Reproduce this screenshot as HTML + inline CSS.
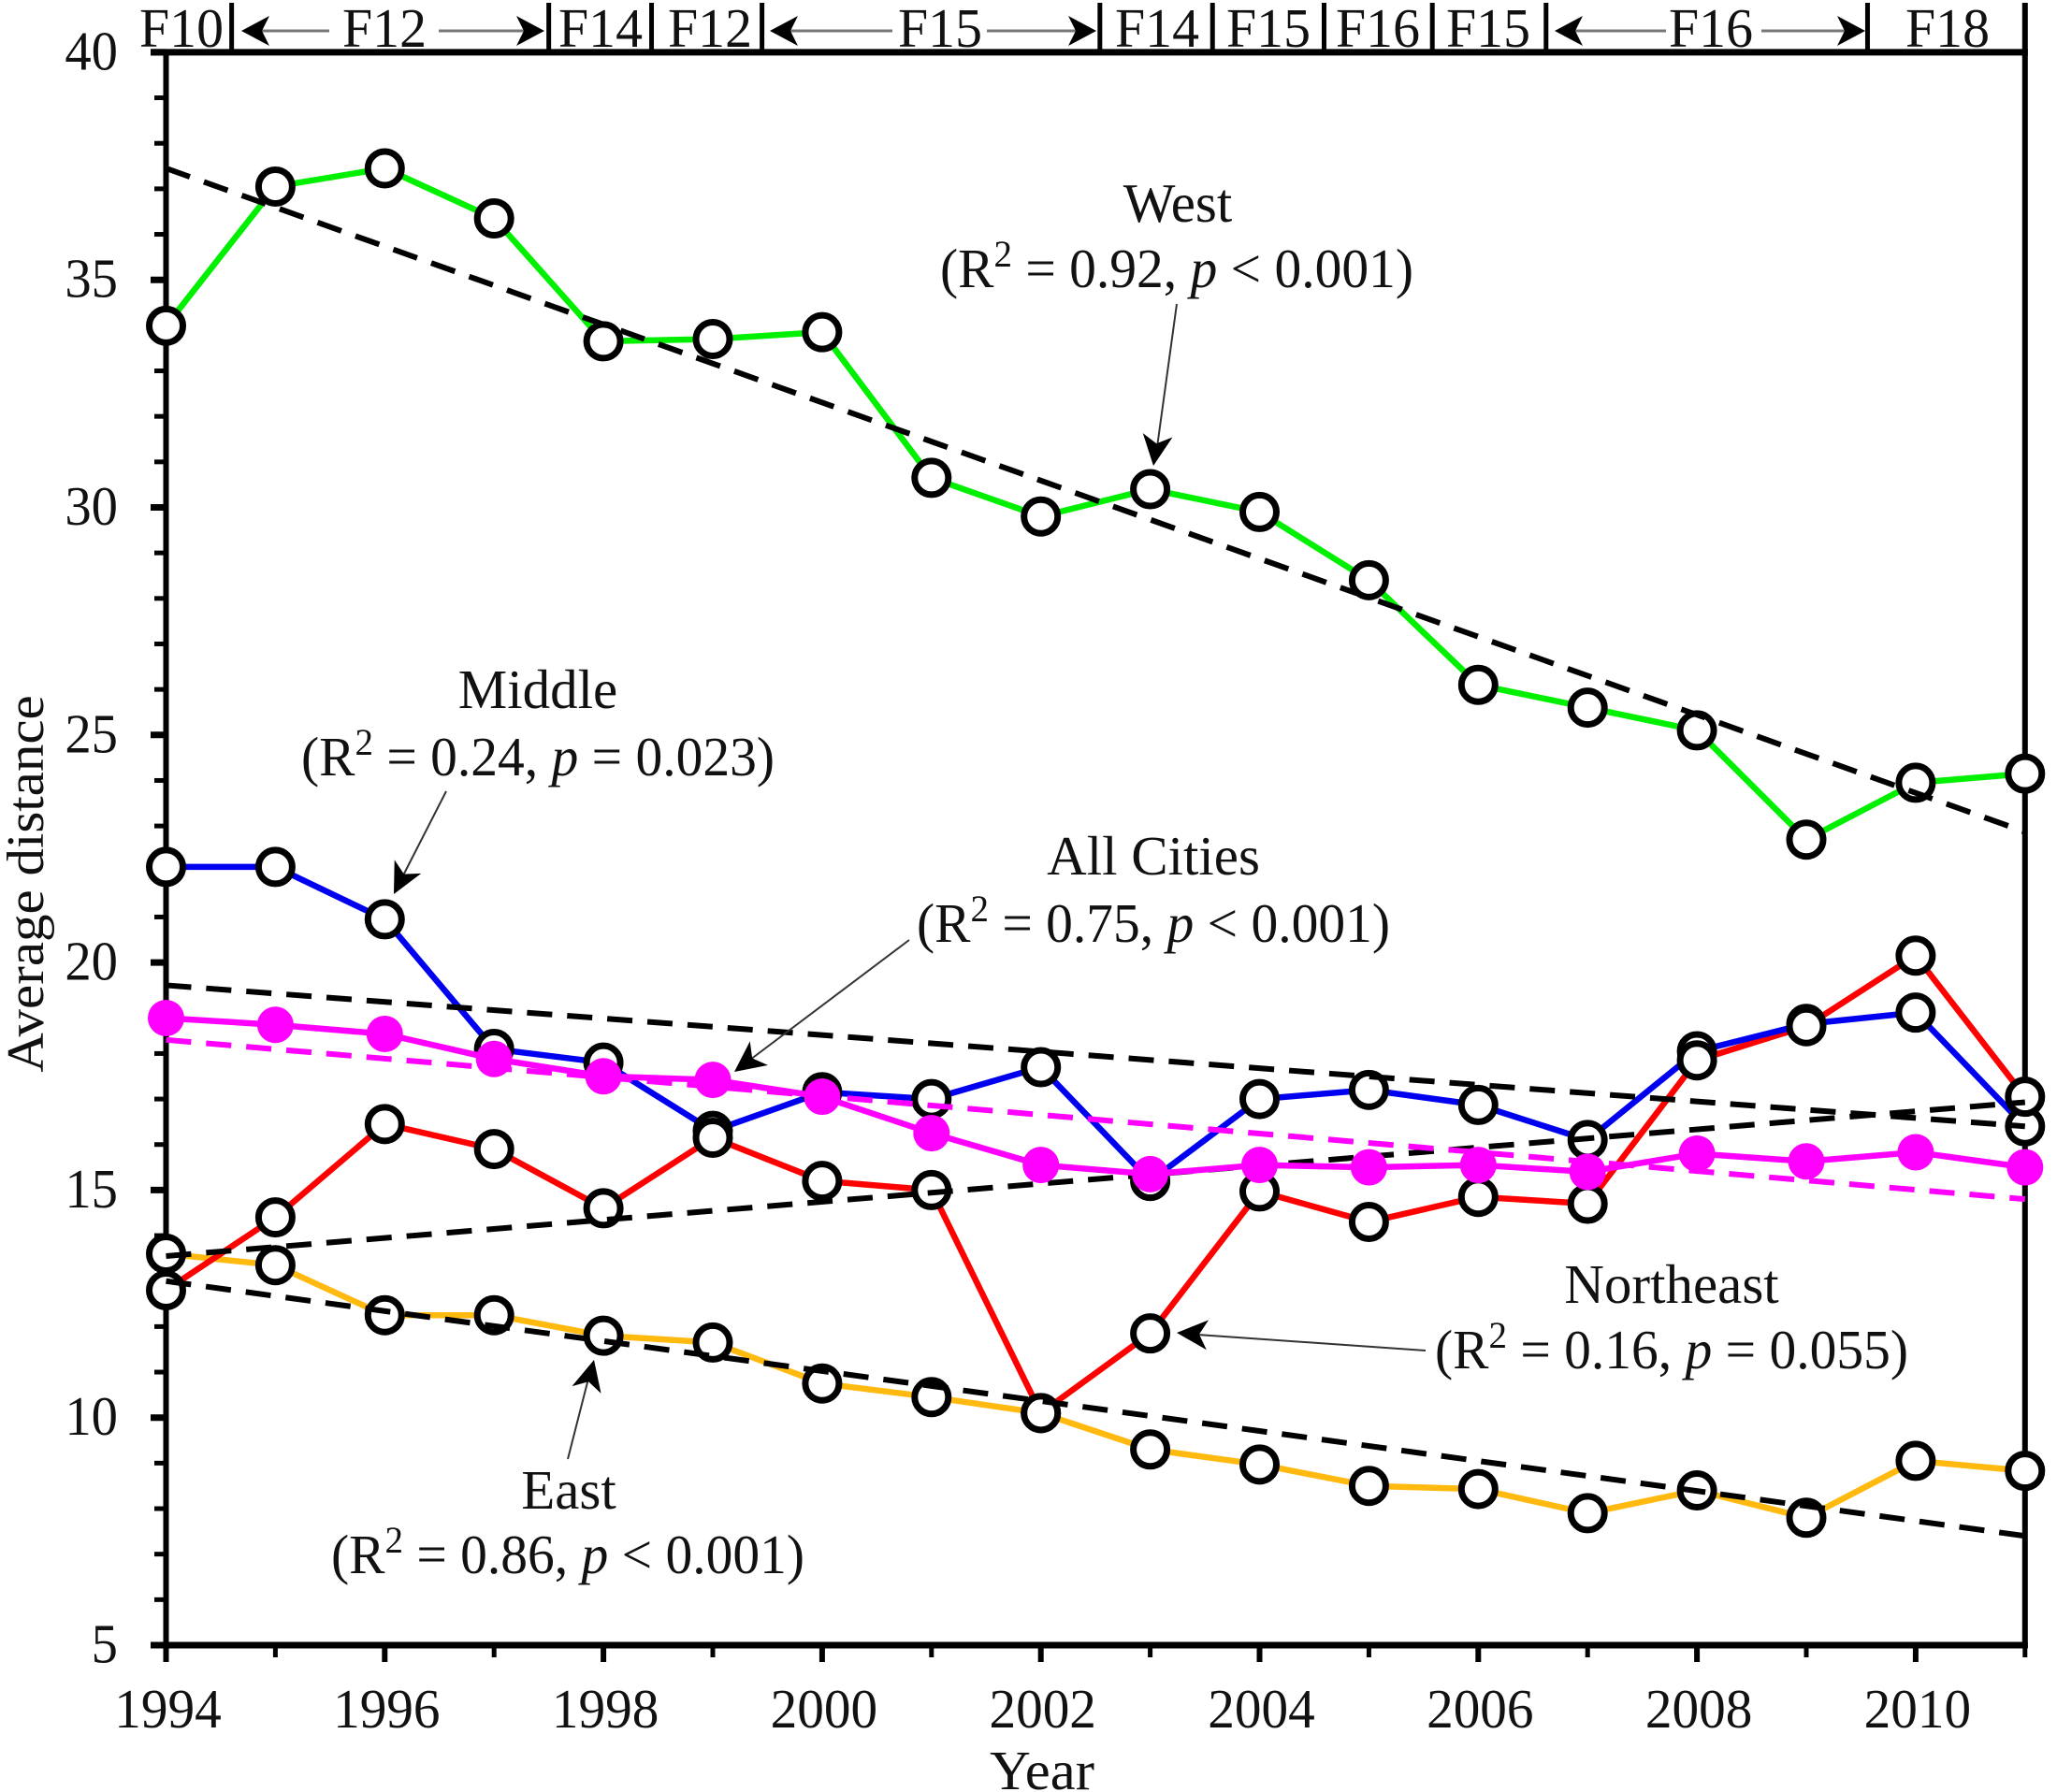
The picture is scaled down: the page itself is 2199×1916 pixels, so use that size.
<!DOCTYPE html>
<html lang="en">
<head>
<meta charset="utf-8">
<title>Average distance by region, 1994-2011</title>
<style>
html,body{margin:0;padding:0;background:#fff;}
svg{display:block;}
text{font-family:"Liberation Serif",serif;fill:#111;font-size:59px;}
</style>
</head>
<body>
<svg id="chart" xmlns="http://www.w3.org/2000/svg" width="2199" height="1916" viewBox="0 0 2199 1916">
  <rect width="2199" height="1916" fill="#fff"/>
  <g id="axes"></g>
  <g id="header-dividers"></g>
  <g id="series-layer"></g>

  <g>
    <text text-anchor="middle" transform="translate(194,50) scale(.98,1)">F10</text>
    <text text-anchor="middle" transform="translate(411,50) scale(.98,1)">F12</text>
    <text text-anchor="middle" transform="translate(642,50) scale(.98,1)">F14</text>
    <text text-anchor="middle" transform="translate(759,50) scale(.98,1)">F12</text>
    <text text-anchor="middle" transform="translate(1005,50) scale(.98,1)">F15</text>
    <text text-anchor="middle" transform="translate(1237,50) scale(.98,1)">F14</text>
    <text text-anchor="middle" transform="translate(1356,50) scale(.98,1)">F15</text>
    <text text-anchor="middle" transform="translate(1473,50) scale(.98,1)">F16</text>
    <text text-anchor="middle" transform="translate(1591,50) scale(.98,1)">F15</text>
    <text text-anchor="middle" transform="translate(1829,50) scale(.98,1)">F16</text>
    <text text-anchor="middle" transform="translate(2082,50) scale(.98,1)">F18</text>
  </g>

  <g stroke="#777" stroke-width="3">
    <line x1="270" y1="33" x2="352" y2="33"/>
    <line x1="469" y1="33" x2="570" y2="33"/>
    <line x1="835" y1="33" x2="954" y2="33"/>
    <line x1="1055" y1="33" x2="1160" y2="33"/>
    <line x1="1675" y1="33" x2="1781" y2="33"/>
    <line x1="1883" y1="33" x2="1982" y2="33"/>
    <g fill="#000" stroke="none">
      <path d="M0,0 L-30,-16 L-22,0 L-30,16 Z" transform="translate(258,33) rotate(180)"/>
      <path d="M0,0 L-30,-16 L-22,0 L-30,16 Z" transform="translate(582,33)"/>
      <path d="M0,0 L-30,-16 L-22,0 L-30,16 Z" transform="translate(823,33) rotate(180)"/>
      <path d="M0,0 L-30,-16 L-22,0 L-30,16 Z" transform="translate(1172,33)"/>
      <path d="M0,0 L-30,-16 L-22,0 L-30,16 Z" transform="translate(1662,33) rotate(180)"/>
      <path d="M0,0 L-30,-16 L-22,0 L-30,16 Z" transform="translate(1994,33)"/>
    </g>
  </g>

  <text text-anchor="middle" transform="translate(1114,1913) scale(1.03,1)">Year</text>
  <text text-anchor="middle" transform="translate(46,945) rotate(-90) scale(1,.95)">Average distance</text>

  <g>
    <text text-anchor="middle" transform="translate(1259,237)">West</text>
    <text text-anchor="middle" transform="translate(1258,307) scale(.975,1)">(R<tspan font-size="40" dy="-22">2</tspan><tspan dy="22"> = 0.92, </tspan><tspan font-style="italic">p</tspan> &lt; 0.001)</text>
    <line x1="1258" y1="325" x2="1237" y2="478" stroke="#333" stroke-width="2"/>
    <path d="M0,0 L-33,-16 L-24,0 L-33,16 Z" transform="translate(1233,498) rotate(98)" fill="#000"/>
  </g>
  <g>
    <text text-anchor="middle" transform="translate(575,757)">Middle</text>
    <text text-anchor="middle" transform="translate(575,829) scale(.975,1)">(R<tspan font-size="40" dy="-22">2</tspan><tspan dy="22"> = 0.24, </tspan><tspan font-style="italic">p</tspan> = 0.023)</text>
    <line x1="477" y1="846" x2="430" y2="938" stroke="#333" stroke-width="2"/>
    <path d="M0,0 L-33,-16 L-24,0 L-33,16 Z" transform="translate(421,956) rotate(117)" fill="#000"/>
  </g>
  <g>
    <text text-anchor="middle" transform="translate(1233,935)">All Cities</text>
    <text text-anchor="middle" transform="translate(1233,1007) scale(.975,1)">(R<tspan font-size="40" dy="-22">2</tspan><tspan dy="22"> = 0.75, </tspan><tspan font-style="italic">p</tspan> &lt; 0.001)</text>
    <line x1="972" y1="1005" x2="802" y2="1133" stroke="#333" stroke-width="2"/>
    <path d="M0,0 L-33,-16 L-24,0 L-33,16 Z" transform="translate(785,1146) rotate(143)" fill="#000"/>
  </g>
  <g>
    <text text-anchor="middle" transform="translate(1787,1393)">Northeast</text>
    <text text-anchor="middle" transform="translate(1787,1463) scale(.975,1)">(R<tspan font-size="40" dy="-22">2</tspan><tspan dy="22"> = 0.16, </tspan><tspan font-style="italic">p</tspan> = 0.055)</text>
    <line x1="1524" y1="1444" x2="1280" y2="1427" stroke="#333" stroke-width="2"/>
    <path d="M0,0 L-33,-16 L-24,0 L-33,16 Z" transform="translate(1258,1425) rotate(184)" fill="#000"/>
  </g>
  <g>
    <text text-anchor="middle" transform="translate(608,1613)">East</text>
    <text text-anchor="middle" transform="translate(607,1682) scale(.975,1)">(R<tspan font-size="40" dy="-22">2</tspan><tspan dy="22"> = 0.86, </tspan><tspan font-style="italic">p</tspan> &lt; 0.001)</text>
    <line x1="607" y1="1560" x2="629" y2="1474" stroke="#333" stroke-width="2"/>
    <path d="M0,0 L-33,-16 L-24,0 L-33,16 Z" transform="translate(635,1454) rotate(-76)" fill="#000"/>
  </g>
</svg>
<script>
const years = [1994,1995,1996,1997,1998,1999,2000,2001,2002,2003,2004,2005,2006,2007,2008,2009,2010,2011];
const westValues = [33.99,37.05,37.45,36.35,33.65,33.7,33.85,30.65,29.8,30.4,29.9,28.4,26.1,25.6,25.1,22.7,23.95,24.15];
const middleValues = [22.1,22.1,20.95,18.1,17.8,16.3,17.15,17.0,17.7,15.2,17.0,17.2,16.87,16.1,18.05,18.65,18.9,16.4];
const northeastValues = [12.8,14.4,16.45,15.9,14.6,16.15,15.2,15.0,10.1,11.85,14.97,14.3,14.85,14.7,17.85,18.6,20.15,17.05];
const eastValues = [13.6,13.35,12.25,12.25,11.8,11.65,10.75,10.45,10.1,9.3,8.97,8.5,8.43,7.9,8.4,7.8,9.05,8.83];
const allCitiesValues = [18.78,18.63,18.43,17.88,17.5,17.42,17.05,16.25,15.55,15.35,15.55,15.5,15.55,15.4,15.8,15.63,15.83,15.5];
const westTrend = [37.45,22.87];
const middleTrend = [19.5,16.4];
const northeastTrend = [13.55,16.93];
const eastTrend = [13.0,7.4];
const allCitiesTrend = [18.3,14.8];
const yTickLabels = [5,10,15,20,25,30,35,40];
const yMinorTicks = [6,7,8,9,11,12,13,14,16,17,18,19,21,22,23,24,26,27,28,29,31,32,33,34,36,37,38,39];
const xTickLabels = [1994,1996,1998,2000,2002,2004,2006,2008,2010];
const xMinorTicks = [1995,1997,1999,2001,2003,2005,2007,2009,2011];
const headerBoundaries = [1994.6,1997.5,1998.44,1999.45,2002.54,2003.57,2004.59,2005.58,2006.62,2009.56,2011];

const NS = 'http://www.w3.org/2000/svg';
function xScale(year){ return 177.5 + (year - 1994) * 116.9; }
function yScale(value){ return 1759 - (value - 5) * 48.66; }
function make(tag, attrs, parent){
  const el = document.createElementNS(NS, tag);
  for (const k in attrs) el.setAttribute(k, attrs[k]);
  parent.appendChild(el);
  return el;
}
function pointsFor(values){
  return values.map(function(v, i){ return xScale(years[i]) + ',' + yScale(v); }).join(' ');
}

const axes = document.getElementById('axes');
const xLeft = xScale(1994), xRight = xScale(2011), yBottom = yScale(5), yTop = yScale(40);

const leftAxis = make('line', {x1:xLeft, y1:yTop-3, x2:xLeft, y2:yBottom+3, stroke:'#000', 'stroke-width':6}, axes);


const rightAxis = make('line', {x1:xRight, y1:3, x2:xRight, y2:yBottom+3, stroke:'#000', 'stroke-width':6}, axes);


const bottomAxis = make('line', {x1:161, y1:yBottom, x2:xRight+3, y2:yBottom, stroke:'#000', 'stroke-width':7}, axes);


const topAxis = make('line', {x1:161, y1:yTop, x2:xRight+3, y2:yTop, stroke:'#000', 'stroke-width':7}, axes);



yTickLabels.forEach(function(v){
  const t = make('line', {x1:161, y1:yScale(v), x2:xLeft, y2:yScale(v), stroke:'#000', 'stroke-width':7}, axes);
  
  
  const lab = make('text', {'text-anchor':'end', transform:'translate(126,' + (yScale(v) + 18.5) + ') scale(.96,1)'}, axes);
  
  
  lab.textContent = v;
});
yMinorTicks.forEach(function(v){
  const t = make('line', {x1:165, y1:yScale(v), x2:xLeft, y2:yScale(v), stroke:'#000', 'stroke-width':5}, axes);
  
  
});
xTickLabels.forEach(function(yr){
  const t = make('line', {x1:xScale(yr), y1:yBottom, x2:xScale(yr), y2:1777, stroke:'#000', 'stroke-width':6}, axes);
  
  
  const lab = make('text', {'text-anchor':'middle', transform:'translate(' + (xScale(yr) + 2) + ',1847) scale(.97,1)'}, axes);
  
  
  lab.textContent = yr;
});
xMinorTicks.forEach(function(yr){
  const t = make('line', {x1:xScale(yr), y1:yBottom, x2:xScale(yr), y2:1772, stroke:'#000', 'stroke-width':5}, axes);
  
  
});

const dividers = document.getElementById('header-dividers');
headerBoundaries.forEach(function(yr){
  const d = make('line', {x1:xScale(yr), y1:3, x2:xScale(yr), y2:yTop, stroke:'#000', 'stroke-width':5}, dividers);
  
  
});

const layer = document.getElementById('series-layer');

function drawLine(values, color, name){
  const l = make('polyline', {points:pointsFor(values), fill:'none', stroke:color, 'stroke-width':6.5, 'stroke-linejoin':'round'}, layer);
  
  
}
function drawHollowMarkers(values, name){
  values.forEach(function(v, i){
    const c = make('circle', {cx:xScale(years[i]), cy:yScale(v), r:18, fill:'#fff', stroke:'#000', 'stroke-width':7}, layer);
    
    
  });
}
function drawTrend(values, color, name){
  const l = make('line', {x1:xScale(1994), y1:yScale(values[0]), x2:xScale(2011), y2:yScale(values[1]), stroke:color, 'stroke-width':6, 'stroke-dasharray':'27 16'}, layer);
  
  
}

drawLine(eastValues, '#ffb90f', 'east');
drawLine(northeastValues, '#ff0000', 'northeast');
drawLine(middleValues, '#0000f0', 'middle');
drawLine(westValues, '#00f000', 'west');
drawHollowMarkers(westValues, 'west');
drawHollowMarkers(middleValues, 'middle');
drawHollowMarkers(eastValues, 'east');
drawHollowMarkers(northeastValues, 'northeast');
drawTrend(westTrend, '#000', 'west');
drawTrend(middleTrend, '#000', 'middle');
drawTrend(northeastTrend, '#000', 'northeast');
drawTrend(eastTrend, '#000', 'east');
drawTrend(allCitiesTrend, '#ff00ff', 'all-cities');
drawLine(allCitiesValues, '#ff00ff', 'all-cities');
allCitiesValues.forEach(function(v, i){
  const c = make('circle', {cx:xScale(years[i]), cy:yScale(v), r:19.5, fill:'#ff00ff'}, layer);
  
  
});
</script>
</body>
</html>
